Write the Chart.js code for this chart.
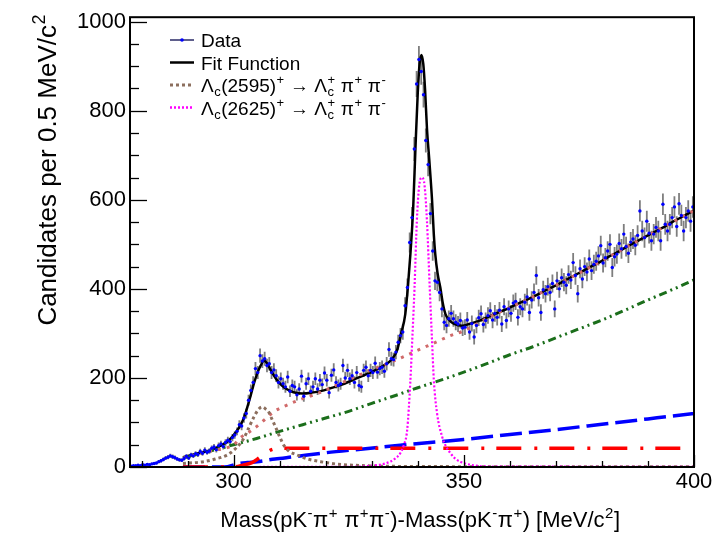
<!DOCTYPE html>
<html>
<head>
<meta charset="utf-8">
<script src="https://cdn.jsdelivr.net/npm/chart.js@4.4.1/dist/chart.umd.min.js"></script>
<style>
  html, body { margin: 0; padding: 0; background: #fff; }
  canvas { display: block; }
</style>
</head>
<body>
<canvas id="massChart" width="723" height="536"></canvas>
<script>
// histogram: 0.5 MeV bins starting at 277.5
const binStart = 277.5;
const binWidth = 0.5;
const counts = [
  // 277.75 - 289.25
  2, 3, 3, 4, 3, 5, 4, 6, 5, 7, 8, 9, 12, 14, 17, 20, 22, 25, 23, 21, 18, 16, 15, 19,
  // 289.75 - 300.25
  24, 20, 27, 25, 30, 28, 35, 31, 38, 33, 36, 42, 45, 39, 48, 52, 46, 55, 60, 57, 66, 72,
  // 300.75 - 312.75
  80, 95, 92, 110, 120, 150, 172, 190, 221, 212, 250, 238, 243, 228, 232, 212, 218, 205, 190, 198, 187, 180, 202, 170, 183,
  // 313.25 - 336.25
  180, 162, 175, 204, 159, 187, 198, 170, 180, 198, 175, 195, 185, 211, 195, 167, 206, 218, 190, 183, 187, 228, 200, 217,
  198, 205, 190, 212, 183, 180, 217, 224, 205, 217, 212, 233, 213, 221, 224, 215, 232, 264, 243, 241, 258, 280, 295,
  // 336.75 - 348.75
  303, 362, 403, 504, 560, 714, 860, 915, 888, 836, 733, 679, 569, 485, 418, 415, 392, 355, 325, 318, 333, 345, 333, 325, 321,
  // 349.25 - 399.75
  329, 312, 314, 330, 303, 322, 292, 318, 335, 344, 320, 329, 340, 351, 330, 345, 336, 352, 321, 360, 329, 355, 345, 368,
  372, 336, 360, 355, 370, 382, 347, 375, 392, 430, 380, 347, 398, 389, 405, 392, 412, 355, 418, 400, 425, 415, 408, 432,
  420, 459, 430, 389, 445, 422, 450, 438, 467, 441, 455, 462, 474, 497, 458, 470, 485, 500, 448, 472, 478, 502, 490, 523,
  495, 480, 505, 512, 498, 520, 575, 530, 515, 552, 525, 508, 523, 538, 530, 508, 590, 545, 530, 545, 560, 584, 540, 591,
  565, 530, 560, 575, 552, 584
];

// total fit
const fitX = [289, 292, 295, 297, 299, 300.5, 301.5, 302.3, 303, 303.7, 304.4, 305.2, 305.9, 306.6, 307.3, 308.1, 309.5, 310.5, 311.7, 313,
  315, 317, 319.6, 322, 324, 326, 328.3, 330.5, 332.6, 333.8, 334.8, 335.5, 336.4, 337.3, 337.9, 338.4, 339.0, 339.5, 340.0, 340.4,
  340.8, 341.2, 341.6, 342.0, 342.5, 343.1, 343.5, 343.8, 344.3, 344.9, 345.4, 346.0, 346.8, 347.8, 349.6, 351.4, 354, 356, 358, 360,
  362, 364, 366, 368, 370, 372, 374, 376, 378, 380, 382, 384, 386, 388, 390, 392, 394, 396, 398, 400];
const fitY = [22, 30, 38, 47, 60, 78, 94, 112, 135, 160, 187, 212, 228, 239, 232, 217, 194, 183, 174, 168,
  165, 167, 172, 180, 187, 196, 206, 216, 228, 236, 248, 262, 300, 344, 410, 478, 580, 716, 840, 905,
  925, 905, 845, 760, 690, 600, 520, 478, 435, 403, 370, 344, 330, 322, 317, 322, 331, 340, 349, 358,
  368, 377, 387, 398, 408, 419, 430, 441, 452, 463, 475, 486, 498, 509, 520, 531, 542, 554, 565, 576];

// total background (light red dotted)
const bkgX = [289, 295, 300, 301.5, 303, 304.4, 306.6, 308.7, 311.6, 314.1, 318.2, 323.9, 329.7, 334.1, 339.1, 343, 347.1,
  349.6, 351.4, 354, 356, 358, 360, 365, 370, 375, 380, 385, 390, 395, 400];
const bkgY = [20, 36, 50, 66, 76, 86, 105, 124, 139, 150, 165, 191, 217, 235, 258, 276, 295,
  304, 313, 328, 339, 349, 358, 382, 408, 435, 463, 492, 520, 548, 576];

// Lambda_c(2595)+ component
const lc2595X = [289, 293.5, 296, 298.6, 300.5, 302.2, 303.3, 304.4, 305.3, 306.2, 307, 307.6, 308.3, 309.1, 310, 310.9, 312,
  313.8, 316, 318.9, 322, 326, 332, 340, 400];
const lc2595Y = [8, 12, 18, 27, 42, 64, 88, 112, 128, 135, 130, 124, 108, 90, 68, 49, 36, 27, 18, 12, 7, 4, 2, 1, 0.5];

// Lambda_c(2625)+ component
const lc2625X = [289, 326, 330, 333, 335, 336.2, 337, 337.7, 338.4, 338.8, 339.3, 339.8, 340.3, 340.9, 341.5, 342.0, 342.6,
  343.1, 343.5, 344.2, 345.3, 346.2, 347.1, 348, 349.2, 352, 356, 400];
const lc2625Y = [0, 0.5, 3, 8, 18, 31, 50, 83, 194, 284, 403, 552, 630, 650, 630, 552, 403, 284, 194, 120, 68, 45, 31, 20, 12, 4, 1, 0.5];

// green dash-dot-dot background
const greenX = [289, 295, 300, 305, 310, 315, 320, 325, 330, 335, 340, 345, 350, 355, 360, 365, 370, 375, 380, 385, 390, 395, 400];
const greenY = [20, 36, 50, 64, 80, 95, 110, 125, 143, 160, 178, 195, 213, 232, 252, 270, 290, 310, 330, 352, 375, 397, 420];

// blue long-dash background
const blueX = [289, 298, 300.8, 303, 305.1, 309, 313.1, 320, 327.6, 336.2, 350, 360, 370, 380, 390, 400];
const blueY = [0, 0, 7, 10, 12, 18, 23, 32, 40, 49, 62, 73, 84, 96, 108, 120];

// red dash-dot background
const redX = [289, 300, 302, 304, 305.1, 306, 307.3, 308.5, 310, 400];
const redY = [0, 0, 4, 10, 17, 24, 34, 40, 42, 42];

const xTicks = [300, 350, 400];
const yTicks = [0, 200, 400, 600, 800, 1000];

const FONT = '"Liberation Sans", Arial, Helvetica, sans-serif';

function pts(xs, ys) {
    return xs.map((x, i) => ({ x: x, y: ys[i] }));
}

function curve(label, xs, ys, color, width, dash, order) {
    return {
        label: label,
        data: pts(xs, ys),
        showLine: true,
        borderColor: color,
        borderWidth: width,
        borderDash: dash,
        pointRadius: 0,
        fill: false,
        cubicInterpolationMode: 'monotone',
        order: order
    };
}

// draws text with sub/superscripts: parts are {t}, {sup}, {sub} or {sub, sup}
function richWidth(ctx, parts, size) {
    let w = 0;
    parts.forEach(p => {
        if (p.t !== undefined) {
            ctx.font = size + 'px ' + FONT;
            w += ctx.measureText(p.t).width;
        } else {
            ctx.font = Math.round(size * 0.7) + 'px ' + FONT;
            const a = p.sup ? ctx.measureText(p.sup).width : 0;
            const b = p.sub ? ctx.measureText(p.sub).width : 0;
            w += Math.max(a, b) + 1;
        }
    });
    return w;
}

function richText(ctx, parts, x, y, size, align) {
    let cx = x;
    if (align === 'right') cx = x - richWidth(ctx, parts, size);
    ctx.textBaseline = 'alphabetic';
    ctx.textAlign = 'left';
    parts.forEach(p => {
        if (p.t !== undefined) {
            ctx.font = size + 'px ' + FONT;
            ctx.fillText(p.t, cx, y);
            cx += ctx.measureText(p.t).width;
        } else {
            ctx.font = Math.round(size * 0.7) + 'px ' + FONT;
            let w = 0;
            if (p.sup) {
                ctx.fillText(p.sup, cx + 0.5, y - size * 0.42);
                w = Math.max(w, ctx.measureText(p.sup).width);
            }
            if (p.sub) {
                ctx.fillText(p.sub, cx + 0.5, y + size * 0.22);
                w = Math.max(w, ctx.measureText(p.sub).width);
            }
            cx += w + 1;
        }
    });
}

const decorations = {
    id: 'decorations',
    beforeDatasetsDraw(chart) {
        // vertical error bars on the data
        const ctx = chart.ctx;
        const xs = chart.scales.x, ys = chart.scales.y;
        const area = chart.chartArea;
        ctx.save();
        ctx.beginPath();
        ctx.rect(area.left, area.top, area.right - area.left, area.bottom - area.top);
        ctx.clip();
        ctx.strokeStyle = 'rgba(40, 40, 40, 0.6)';
        ctx.lineWidth = 1.8;
        counts.forEach((v, i) => {
            const px = xs.getPixelForValue(binStart + binWidth * (i + 0.5));
            const e = Math.sqrt(v);
            ctx.beginPath();
            ctx.moveTo(px, ys.getPixelForValue(v - e));
            ctx.lineTo(px, ys.getPixelForValue(v + e));
            ctx.stroke();
        });
        ctx.restore();
    },
    afterDraw(chart) {
        const ctx = chart.ctx;
        const xs = chart.scales.x, ys = chart.scales.y;
        const a = chart.chartArea;
        ctx.save();

        // frame
        ctx.strokeStyle = '#000';
        ctx.lineWidth = 2;
        ctx.strokeRect(a.left, a.top, a.right - a.left, a.bottom - a.top);

        // inward ticks
        ctx.lineWidth = 1.3;
        for (let v = 280; v <= 400; v += 10) {
            const px = Math.round(xs.getPixelForValue(v)) + 0.5;
            const len = xTicks.includes(v) ? 12 : 6;
            ctx.beginPath();
            ctx.moveTo(px, a.bottom);
            ctx.lineTo(px, a.bottom - len);
            ctx.stroke();
        }
        for (let v = 0; v <= 1000; v += 50) {
            const py = Math.round(ys.getPixelForValue(v)) + 0.5;
            const len = yTicks.includes(v) ? 17 : 9;
            ctx.beginPath();
            ctx.moveTo(a.left, py);
            ctx.lineTo(a.left + len, py);
            ctx.stroke();
        }

        // axis titles
        ctx.fillStyle = '#000';
        richText(ctx, [
            { t: 'Mass(pK' }, { sup: '-' }, { t: 'π' }, { sup: '+' }, { t: ' π' }, { sup: '+' }, { t: 'π' }, { sup: '-' },
            { t: ')-Mass(pK' }, { sup: '-' }, { t: 'π' }, { sup: '+' }, { t: ') [MeV/c' }, { sup: '2' }, { t: ']' }
        ], 620, 527, 22, 'right');

        ctx.save();
        ctx.translate(56, 14);
        ctx.rotate(-Math.PI / 2);
        richText(ctx, [{ t: 'Candidates per 0.5 MeV/c' }, { sup: '2' }], 0, 0, 26, 'right');
        ctx.restore();

        // legend
        const rows = [40, 62.5, 85, 107.5];
        const x0 = 170, x1 = 194, tx = 201;
        ctx.setLineDash([]);
        ctx.strokeStyle = '#2a2a66';
        ctx.lineWidth = 1.5;
        ctx.beginPath(); ctx.moveTo(x0, rows[0]); ctx.lineTo(x1, rows[0]); ctx.stroke();
        ctx.fillStyle = '#0000ff';
        ctx.beginPath(); ctx.arc(182, rows[0], 1.8, 0, Math.PI * 2); ctx.fill();
        ctx.strokeStyle = '#000';
        ctx.lineWidth = 2.5;
        ctx.beginPath(); ctx.moveTo(x0, rows[1]); ctx.lineTo(x1, rows[1]); ctx.stroke();
        ctx.setLineDash([3, 3]);
        ctx.strokeStyle = '#8c6f5e';
        ctx.lineWidth = 3;
        ctx.beginPath(); ctx.moveTo(x0, rows[2]); ctx.lineTo(x1, rows[2]); ctx.stroke();
        ctx.setLineDash([2, 2]);
        ctx.strokeStyle = '#ff00ff';
        ctx.lineWidth = 2.5;
        ctx.beginPath(); ctx.moveTo(x0, rows[3]); ctx.lineTo(x1, rows[3]); ctx.stroke();
        ctx.setLineDash([]);

        ctx.fillStyle = '#000';
        const ls = 19;
        richText(ctx, [{ t: 'Data' }], tx, rows[0] + 7, ls, 'left');
        richText(ctx, [{ t: 'Fit Function' }], tx, rows[1] + 7, ls, 'left');
        richText(ctx, [{ t: 'Λ' }, { sub: 'c' }, { t: '(2595)' }, { sup: '+' }, { t: ' → Λ' }, { sub: 'c', sup: '+' },
            { t: ' π' }, { sup: '+' }, { t: ' π' }, { sup: '-' }], tx, rows[2] + 7, ls, 'left');
        richText(ctx, [{ t: 'Λ' }, { sub: 'c' }, { t: '(2625)' }, { sup: '+' }, { t: ' → Λ' }, { sub: 'c', sup: '+' },
            { t: ' π' }, { sup: '+' }, { t: ' π' }, { sup: '-' }], tx, rows[3] + 7, ls, 'left');

        ctx.restore();
    }
};

const ctx = document.getElementById('massChart').getContext('2d');
const massChart = new Chart(ctx, {
    type: 'scatter',
    data: {
        datasets: [
            {
                label: 'Data',
                data: counts.map((v, i) => ({ x: binStart + binWidth * (i + 0.5), y: v })),
                pointRadius: 1.7,
                pointStyle: 'circle',
                backgroundColor: '#0000ff',
                borderWidth: 0,
                order: 0
            },
            curve('Lc2625', lc2625X, lc2625Y, '#ff00ff', 2.2, [2, 2], 1),
            curve('Lc2595', lc2595X, lc2595Y, '#8c6f5e', 3, [3, 3], 2),
            curve('Background', bkgX, bkgY, '#d06a6a', 3, [3, 6], 3),
            curve('Red', redX, redY, '#ff0000', 3.5, [25, 13, 3, 12], 4),
            curve('Blue', blueX, blueY, '#0000ff', 3.5, [22, 7], 5),
            curve('Green', greenX, greenY, '#1b6e1b', 3, [8, 4, 2, 4, 2, 4], 6),
            curve('Fit Function', fitX, fitY, '#000000', 2.5, [], 7)
        ]
    },
    options: {
        responsive: false,
        animation: false,
        devicePixelRatio: 1,
        layout: {
            padding: { left: 0, right: 29, top: 16, bottom: 0 }
        },
        plugins: {
            legend: { display: false },
            tooltip: { enabled: false }
        },
        scales: {
            x: {
                type: 'linear',
                min: 277.5,
                max: 400,
                grid: { display: false, drawTicks: false },
                border: { display: false },
                afterBuildTicks: s => { s.ticks = xTicks.map(v => ({ value: v })); },
                afterFit: s => { s.height = 69; },
                ticks: {
                    padding: 2,
                    maxRotation: 0,
                    autoSkip: false,
                    color: '#000',
                    font: { family: FONT, size: 22 },
                    callback: v => String(v)
                }
            },
            y: {
                type: 'linear',
                min: 0,
                max: 1010,
                grid: { display: false, drawTicks: false },
                border: { display: false },
                afterBuildTicks: s => { s.ticks = yTicks.map(v => ({ value: v })); },
                afterFit: s => { s.width = 130; },
                ticks: {
                    padding: 4,
                    autoSkip: false,
                    color: '#000',
                    font: { family: FONT, size: 22 },
                    callback: v => String(v)
                }
            }
        }
    },
    plugins: [decorations]
});
</script>
</body>
</html>
